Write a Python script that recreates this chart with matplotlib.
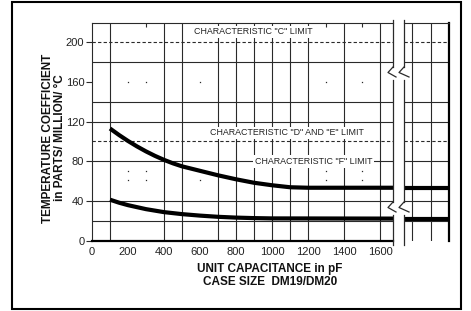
import numpy as np
import matplotlib
matplotlib.use('Agg')
import matplotlib.pyplot as plt
from matplotlib.lines import Line2D
from matplotlib.patches import Rectangle

plt.rcParams['font.family'] = ['Liberation Sans', 'DejaVu Sans']

W, H = 471, 311
def fx(px):
    return px / W
def fy(py):
    return 1 - py / H

# ---- data ----
cap_upper = [100, 150, 200, 250, 300, 350, 400, 450, 500, 600, 700, 800, 900, 1000, 1100, 1200, 1700]
tc_upper = [113, 106.5, 100.5, 95, 90, 85.5, 81.5, 78, 75, 70.5, 66, 62, 58.5, 56, 54, 53.5, 53.5]
cap_lower = [100, 150, 200, 250, 300, 400, 500, 600, 700, 800, 900, 1000, 1700]
tc_lower = [41.5, 38.5, 36, 34, 32, 29, 27, 25.5, 24.3, 23.5, 23, 22.7, 22.5]

# section right of the axis break
right_x = [0, 250]
right_upper = [53.5, 53.5]
right_lower = [22.5, 22.5]

x_ticks = [0, 200, 400, 600, 800, 1000, 1200, 1400, 1600]
y_ticks = [0, 40, 80, 120, 160, 200]
x_grid = [100, 400, 500, 700, 800, 900, 1000, 1100, 1200, 1400, 1600]
x_minor = [200, 300, 600, 1300, 1500]
right_grid = [45, 150]
y_grid = [20, 40, 80, 120, 140, 180]
y_limits = [100, 200]
dot_y = [160, 70, 61]

fig = plt.figure(figsize=(W / 100, H / 100), dpi=100)

ax1 = fig.add_axes([fx(92), fy(241), fx(393) - fx(92), fy(23) - fy(241)])
ax2 = fig.add_axes([fx(404), fy(241), fx(449) - fx(404), fy(23) - fy(241)], sharey=ax1)

ax1.set_xlim(0, 1672)
ax1.set_ylim(0, 219)
ax2.set_xlim(right_x)

gc = '#2a2a2a'
for ax, xs in ((ax1, x_grid), (ax2, right_grid)):
    for x in xs:
        ax.axvline(x, color=gc, lw=0.8, zorder=1)
    for y in y_grid:
        ax.axhline(y, color=gc, lw=0.8, zorder=1)
    for y in y_limits:
        ax.axhline(y, color=gc, lw=0.8, ls=(0, (3, 2)), zorder=1)

# sparse dotted minor lines
for x in x_minor:
    ax1.plot([x] * len(dot_y), dot_y, ls='none', marker='s', ms=0.9, color=gc, mew=0)
ax1.set_xticks(x_minor, minor=True)
ax1.tick_params(axis='x', which='minor', top=True, bottom=False, direction='in', length=3, width=0.8, color=gc)

ax1.plot(cap_upper, tc_upper, color='black', lw=3, solid_capstyle='butt', solid_joinstyle='round', zorder=3)
ax1.plot(cap_lower, tc_lower, color='black', lw=3, solid_capstyle='butt', solid_joinstyle='round', zorder=3)
ax2.plot(right_x, right_upper, color='black', lw=3, solid_capstyle='butt', zorder=3)
ax2.plot(right_x, right_lower, color='black', lw=3, solid_capstyle='butt', zorder=3)

ax1.set_xticks(x_ticks)
ax1.set_yticks(y_ticks)
ax1.tick_params(axis='x', which='major', length=0, pad=4, labelsize=8, labelcolor='#222')
ax1.tick_params(axis='y', length=4, width=0.8, pad=1.5, labelsize=8, labelcolor='#222', color=gc)
ax2.tick_params(left=False, bottom=False, labelleft=False, labelbottom=False)

for s in ('top', 'left'):
    ax1.spines[s].set_linewidth(0.8)
    ax1.spines[s].set_color(gc)
ax1.spines['bottom'].set_linewidth(1.6)
ax1.spines['right'].set_visible(False)
ax2.spines['left'].set_visible(False)
ax2.spines['bottom'].set_visible(False)
ax2.spines['top'].set_linewidth(0.8)
ax2.spines['top'].set_color(gc)
ax2.spines['right'].set_linewidth(1.6)

tb = dict(fc='white', ec='none', pad=1.2)
ax1.text(897, 210, 'CHARACTERISTIC "C" LIMIT', ha='center', va='center', fontsize=6.4, color='#222', bbox=tb, zorder=4)
ax1.text(1082, 108.5, 'CHARACTERISTIC "D" AND "E" LIMIT', ha='center', va='center', fontsize=6.4, color='#222', bbox=tb, zorder=4)
ax1.text(1230, 80, 'CHARACTERISTIC "F" LIMIT', ha='center', va='center', fontsize=6.4, color='#222', bbox=tb, zorder=4)

# axis break: gap edges with zigzags
def seg(pts):
    xs = [fx(p[0]) for p in pts]
    ys = [fy(p[1]) for p in pts]
    fig.add_artist(Line2D(xs, ys, color=gc, lw=0.9, transform=fig.transFigure))

for xe, dx in ((393, 0), (404, 2)):
    seg([(xe, 20), (xe, 67)])
    seg([(xe, 67), (xe - 5, 72.5), (xe + 3 + dx, 77)])
    seg([(xe, 80), (xe, 202)])
    seg([(xe, 202), (xe - 5, 207.5), (xe + 3 + dx, 212)])
    seg([(xe, 215), (xe, 245)])

fig.text(fx(54), fy(138), 'TEMPERATURE COEFFICIENT\nin PARTS/ MILLION/ °C', rotation=90, ha='center', va='center',
         fontsize=8.5, fontweight='bold', color='#111', linespacing=1.1, multialignment='center')
fig.text(fx(270), fy(275.5), 'UNIT CAPACITANCE in pF\nCASE SIZE  DM19/DM20', ha='center', va='center',
         fontsize=8.5, fontweight='bold', color='#111', linespacing=1.05)

fig.add_artist(Rectangle((fx(12), fy(309)), fx(461) - fx(12), fy(2) - fy(309), fill=False,
                         lw=1.5, ec='black', transform=fig.transFigure))

fig.savefig('out.png', dpi=100)
